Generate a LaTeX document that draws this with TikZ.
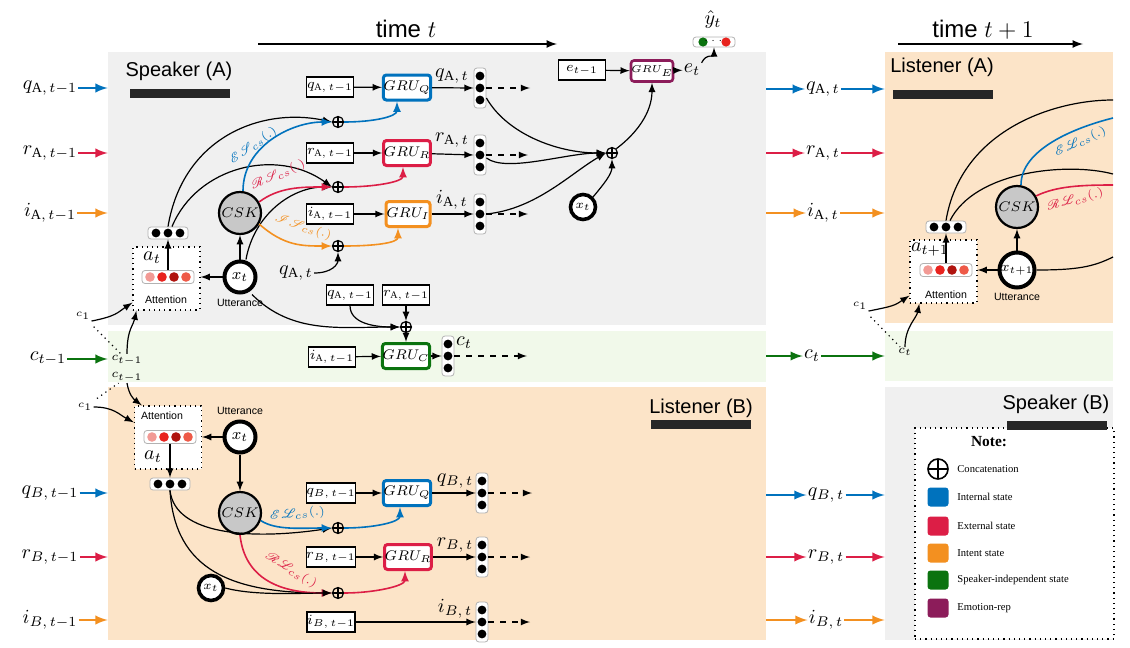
\documentclass[tikz,border=0pt]{standalone}
\usepackage{amsmath}
\usepackage{mathrsfs}
\usepackage{fontspec}
\setmainfont{Liberation Serif}
\setsansfont{Liberation Sans}
\usepackage{tikz}
\usetikzlibrary{calc}
\usetikzlibrary{positioning}
\definecolor{bgspk}{HTML}{F0F0F0}
\definecolor{bglis}{HTML}{FCE4C8}
\definecolor{bgind}{HTML}{F1F9EA}
\definecolor{stint}{HTML}{0072BD}
\definecolor{stext}{HTML}{DC1E46}
\definecolor{stitn}{HTML}{F39020}
\definecolor{stind}{HTML}{0B730F}
\definecolor{stemo}{HTML}{8C1C5A}
\definecolor{cskfill}{HTML}{C8C8C8}
\definecolor{att1}{HTML}{F29A95}
\definecolor{att2}{HTML}{E8231E}
\definecolor{att3}{HTML}{B0140F}
\definecolor{att4}{HTML}{EE5A48}

% state vectors drawn as a box with dots
\newcommand{\colvec}[3]{%
  \node[colv] (#1) at (#2,#3) {};
  \foreach \dy in {-12,0,12} {\fill (#2,#3+\dy) circle (2.2pt);}%
}
\newcommand{\rowvec}[3]{%
  \node[rowv=20pt] (#1) at (#2,#3) {};
  \foreach \dx in {-12,0,12} {\fill (#2+\dx,#3) circle (2.2pt);}%
}
\newcommand{\attvec}[3]{%
  \node[rowv=26pt, minimum height=6.5pt] (#1) at (#2,#3) {};
  \foreach \dx/\dc in {-18/att1,-6/att2,6/att3,18/att4} {\fill[\dc] (#2+\dx,#3) circle (2.4pt);}%
}

\begin{document}
\begin{tikzpicture}[x=0.5pt,y=-0.5pt,>=latex,
region/.style={fill=#1, draw=none, inner sep=0pt},
namebar/.style={fill=black!85, minimum width=50pt, minimum height=4.5pt, inner sep=0pt},
head/.style={font=\sffamily\normalsize, inner sep=0pt},
prevbox/.style={draw, line width=0.6pt, fill=white, minimum width=23.5pt,
  minimum height=10pt, inner sep=0pt, font=\scriptsize},
gru/.style={draw=#1, line width=1.5pt, fill=white, rounded corners=1.5pt,
  minimum width=22pt, minimum height=12.5pt, inner sep=0pt,
  font=\fontsize{7}{8}\selectfont},
colv/.style={draw=black!30, fill=white, rounded corners=1.5pt,
  minimum width=6pt, minimum height=20pt, inner sep=0pt},
rowv/.style={draw=black!30, fill=white, rounded corners=1.5pt,
  minimum width=#1, minimum height=6pt, inner sep=0pt},
csk/.style={circle, draw, line width=1.1pt, fill=cskfill, minimum size=21pt,
  inner sep=0pt, font=\fontsize{7.5}{8}\selectfont},
utt/.style={circle, draw, line width=2pt, fill=white, minimum size=15.5pt,
  inner sep=0pt, font=\footnotesize},
uttsm/.style={utt, line width=1.8pt, minimum size=12.5pt, font=\fontsize{6}{7}\selectfont},
cat/.style={circle, draw, line width=0.6pt, minimum size=5.5pt, inner sep=0pt,
  path picture={\draw[line width=0.8pt]
    (path picture bounding box.north) -- (path picture bounding box.south)
    (path picture bounding box.west) -- (path picture bounding box.east);}},
catbig/.style={circle, draw, line width=0.8pt, minimum size=10pt, inner sep=0pt,
  path picture={\draw[line width=1.4pt]
    (path picture bounding box.north) -- (path picture bounding box.south)
    (path picture bounding box.west) -- (path picture bounding box.east);}},
attbox/.style={draw, dotted, line width=0.6pt, fill=white, minimum width=33.5pt,
  minimum height=31.5pt, inner sep=0pt},
tag/.style={font=\sffamily\fontsize{5.3}{6}\selectfont, inner sep=0.5pt},
lab/.style={font=\normalsize, inner sep=0.5pt},
sublab/.style={font=\fontsize{6.5}{7}\selectfont, inner sep=0.5pt},
feed/.style={->, line width=1.1pt, draw=#1},
link/.style={->, line width=0.6pt},
wire/.style={line width=0.6pt},
fwd/.style={->, dashed, line width=0.6pt},
fn/.style={->, line width=0.8pt, draw=#1},
fnlab/.style={text=#1, font=\fontsize{5.8}{6}\selectfont, inner sep=0pt},
hint/.style={dotted, line width=0.6pt},
legtxt/.style={font=\fontsize{5.3}{6}\selectfont, anchor=west, inner sep=0pt},
swatch/.style={fill=#1, rounded corners=1.5pt, minimum width=10.5pt,
  minimum height=9.5pt, inner sep=0pt}
]
\useasboundingbox (0,0) rectangle (1130,648);

% panels
\node[region=bgspk, minimum width=329pt, minimum height=136.5pt] (regSA) at (437,188.5) {};
\node[region=bgind, minimum width=329pt, minimum height=25.5pt] (regCA) at (437,356.5) {};
\node[region=bglis, minimum width=329pt, minimum height=126.5pt] (regLB) at (437,513.5) {};
\node[region=bglis, minimum width=114pt, minimum height=135.5pt] (regLA) at (999,187.5) {};
\node[region=bgind, minimum width=114pt, minimum height=25pt] (regCB) at (999,356) {};
\node[region=bgspk, minimum width=114pt, minimum height=126.5pt] (regSB) at (999,513.5) {};

% time axes
\coordinate (tA0) at (258,44);
\coordinate (tA1) at (557,44);
\coordinate (tB0) at (898,44);
\coordinate (tB1) at (1083,44);
\draw[->, line width=0.8pt] (tA0) -- (tA1);
\draw[->, line width=0.8pt] (tB0) -- (tB1);
\node[font=\sffamily\large] (timeA) at (406,29) {time $t$};
\node[font=\sffamily\large] (timeB) at (983,30) {time $t+1$};

% panel titles
\node[head] (nameSA) at (179,71) {Speaker (A)};
\node[namebar] (barSA) at (180,93) {};
\node[head] (nameLA) at (942,67) {Listener (A)};
\node[namebar] (barLA) at (942.5,94) {};
\node[head] (nameLB) at (701,408) {Listener (B)};
\node[namebar] (barLB) at (700.5,424.5) {};

% states at t-1
\node[lab] (qinA) at (50,88) {$q_{\mathrm{A},\,t-1}$};
\node[lab] (rinA) at (50,153) {$r_{\mathrm{A},\,t-1}$};
\node[lab] (iinA) at (50,213) {$i_{\mathrm{A},\,t-1}$};
\node[lab] (cin) at (48,359) {$c_{t-1}$};
\node[lab] (qinB) at (50,493) {$q_{B,\,t-1}$};
\node[lab] (rinB) at (50,557) {$r_{B,\,t-1}$};
\node[lab] (iinB) at (50,620) {$i_{B,\,t-1}$};
\draw[feed=stint] (qinA.east) -- (qinA.east -| regSA.west);
\draw[feed=stext] (rinA.east) -- (rinA.east -| regSA.west);
\draw[feed=stitn] (iinA.east) -- (iinA.east -| regSA.west);
\draw[feed=stind] (cin.east) -- (cin.east -| regCA.west);
\draw[feed=stint] (qinB.east) -- (qinB.east -| regLB.west);
\draw[feed=stext] (rinB.east) -- (rinB.east -| regLB.west);
\draw[feed=stitn] (iinB.east) -- (iinB.east -| regLB.west);

% states at t
\node[lab] (qoutA) at (823,89) {$q_{\mathrm{A},\,t}$};
\node[lab] (routA) at (823,153) {$r_{\mathrm{A},\,t}$};
\node[lab] (ioutA) at (823,213) {$i_{\mathrm{A},\,t}$};
\node[lab] (cout) at (812,356) {$c_t$};
\node[lab] (qoutB) at (826,495) {$q_{B,\,t}$};
\node[lab] (routB) at (826,557) {$r_{B,\,t}$};
\node[lab] (ioutB) at (826,620) {$i_{B,\,t}$};
\draw[feed=stint] (regSA.east |- qoutA) -- (qoutA.west);
\draw[feed=stint] (qoutA.east) -- (qoutA.east -| regLA.west);
\draw[feed=stext] (regSA.east |- routA) -- (routA.west);
\draw[feed=stext] (routA.east) -- (routA.east -| regLA.west);
\draw[feed=stitn] (regSA.east |- ioutA) -- (ioutA.west);
\draw[feed=stitn] (ioutA.east) -- (ioutA.east -| regLA.west);
\draw[feed=stind] (regCA.east |- cout) -- (cout.west);
\draw[feed=stind] (cout.east) -- (cout.east -| regCB.west);
\draw[feed=stint] (regLB.east |- qoutB) -- (qoutB.west);
\draw[feed=stint] (qoutB.east) -- (qoutB.east -| regSB.west);
\draw[feed=stext] (regLB.east |- routB) -- (routB.west);
\draw[feed=stext] (routB.east) -- (routB.east -| regSB.west);
\draw[feed=stitn] (regLB.east |- ioutB) -- (ioutB.west);
\draw[feed=stitn] (ioutB.east) -- (ioutB.east -| regSB.west);

% ---------- speaker (A) ----------
\node[attbox] (attA) at (166.5,278.5) {};
\node[lab] (atA) at (152,258) {$a_t$};
\attvec{redA}{168}{277}
\node[tag] (attlabA) at (166,300) {Attention};
\rowvec{vecA}{168}{233}
\node[csk] (cskA) at (240,213) {$CSK$};
\node[utt] (xA) at (240,277) {$x_t$};
\node[tag, below=1.5pt of xA] (uttA) {Utterance};
\node[cat] (catQ) at (338,122) {};
\node[cat] (catR) at (338,187) {};
\node[cat] (catI) at (338,246) {};
\node[lab] (qA) at (296,273) {$q_{\mathrm{A},\,t}$};

\node[prevbox] (qprevA) at (330,87) {$q_{\mathrm{A},\,t-1}$};
\node[prevbox] (rprevA) at (330,153) {$r_{\mathrm{A},\,t-1}$};
\node[prevbox] (iprevA) at (330,214) {$i_{\mathrm{A},\,t-1}$};
\node[gru=stint] (gruQA) at (407,87.5) {$GRU_Q$};
\node[gru=stext] (gruRA) at (407,153) {$GRU_R$};
\node[gru=stitn] (gruIA) at (408,214) {$GRU_I$};
\colvec{colQA}{480}{88}
\colvec{colRA}{480}{155}
\colvec{colIA}{480}{214}
\node[lab] (qtA) at (452,76) {$q_{\mathrm{A},\,t}$};
\node[lab] (rtA) at (452,140) {$r_{\mathrm{A},\,t}$};
\node[lab] (itA) at (452,200) {$i_{\mathrm{A},\,t}$};
\coordinate (fwdQA) at (530,88);
\coordinate (fwdRA) at (528,155);
\coordinate (fwdIA) at (528,214);

\draw[link] (redA.north) -- (vecA.south);
\draw[link] (xA) -- (attA.east |- xA);
\draw[link] (xA) -- (cskA);
\draw[link] (vecA.north) .. controls +(15,-90) and +(-70,-15) .. (catQ.west);
\draw[link] ([xshift=2pt]vecA.north) .. controls +(25,-60) and +(-55,-40) .. (catR.west);
\draw[link] ([xshift=3pt]xA.north) .. controls +(8,-45) and +(-40,0) .. (catR.west);
\draw[fn=stint] ([xshift=1.5pt]cskA.north) .. controls +(0,-45) and +(-40,0) .. (catQ.west);
\draw[fn=stext] (cskA.30) .. controls +(20,-15) and +(-30,0) .. (catR.west);
\draw[fn=stitn] (cskA.-30) .. controls +(25,22) and +(-30,0) .. (catI.west);
\draw[link] (qA.east) .. controls +(18,0) and +(0,12) .. (catI.south);
\node[fnlab=stint, rotate=36] (esA) at (253,146) {$\mathscr{E}\mathscr{S}_{cs}(.)$};
\node[fnlab=stext, rotate=24] (rsA) at (278,175) {$\mathscr{R}\mathscr{S}_{cs}(.)$};
\node[fnlab=stitn, rotate=-18] (isA) at (303,227) {$\mathscr{I}\mathscr{S}_{cs}(.)$};

\draw[fn=stint] (catQ.east) .. controls +(30,0) and +(0,15) .. ([xshift=-5pt]gruQA.south);
\draw[fn=stext] (catR.east) .. controls +(30,0) and +(0,15) .. ([xshift=-2pt]gruRA.south);
\draw[fn=stitn] (catI.east) .. controls +(30,0) and +(0,15) .. ([xshift=-5pt]gruIA.south);
\draw[link] (qprevA) -- (gruQA);
\draw[link] (rprevA) -- (gruRA);
\draw[link] (iprevA) -- (gruIA);
\draw[link] (gruQA) -- (colQA.west);
\draw[link] (gruRA) -- (colRA.west);
\draw[link] (gruIA) -- (colIA.west);
\draw[fwd] (colQA.east) -- (fwdQA);
\draw[fwd] (colRA.east) -- (fwdRA);
\draw[fwd] (colIA.east) -- (fwdIA);

% emotion
\node[prevbox] (eprev) at (582,70) {$e_{t-1}$};
\node[gru=stemo, line width=1.3pt, minimum width=17pt, minimum height=10.5pt,
  font=\fontsize{5.5}{6}\selectfont] (gruE) at (652,71) {$GRU_E$};
\node[lab] (eA) at (692,70) {$e_t$};
\node[rowv=21pt, minimum height=5pt] (yvec) at (714,42) {};
\fill[stind] (703,42) circle (2.3pt);
\fill[att2] (726,42) circle (2.3pt);
\node[font=\tiny, inner sep=0pt] (ydots) at (714.5,41) {$\cdots$};
\node[lab] (yhat) at (713,20) {$\hat{y}_t$};
\node[cat] (catE) at (612,153) {};
\node[uttsm] (xE) at (583,207) {$x_t$};
\draw[link] (eprev) -- (gruE);
\draw[link] (gruE) -- (eA);
\draw[link] (eA.north east) .. controls +(5,-10) and +(0,10) .. (yvec.south);
\draw[link] ([yshift=-5pt]colQA.east) .. controls +(20,35) and +(-50,0) .. (catE.west);
\draw[link] ([yshift=-1.5pt]colRA.east) .. controls +(20,15) and +(-40,0) .. (catE.west);
\draw[link] (colIA.east) .. controls +(50,-5) and +(-35,20) .. (catE.west);
\draw[link] (xE.north east) .. controls +(10,-12) and +(0,15) .. (catE.south);
\draw[link] (catE.north east) .. controls +(20,-15) and +(0,30) .. (gruE.south);

% ---------- speaker-independent state ----------
\node[prevbox] (qprevC) at (350,295) {$q_{\mathrm{A},\,t-1}$};
\node[prevbox] (rprevC) at (406,295) {$r_{\mathrm{A},\,t-1}$};
\node[cat] (catC) at (406,327) {};
\node[gru=stind] (gruC) at (406,356) {$GRU_C$};
\node[prevbox] (iprevC) at (332,357) {$i_{\mathrm{A},\,t-1}$};
\colvec{colC}{448}{356}
\node[lab] (ctA) at (464,343) {$c_t$};
\coordinate (fwdC) at (527,356);
\draw[link] ([xshift=6pt]xA.south) .. controls +(40,40) and +(-60,0) .. (catC.west);
\draw[link] (qprevC.south) .. controls +(0,18) and +(-25,0) .. (catC.west);
\draw[link] (rprevC) -- (catC);
\draw[link] (catC) -- (gruC);
\draw[link] (iprevC) -- (gruC);
\draw[link] (gruC) -- (colC.west);
\draw[fwd] (colC.east) -- (fwdC);

\node[sublab, font=\fontsize{5.5}{6}\selectfont] (cOneA) at (83,316) {$c_1$};
\node[sublab] (cUpA) at (127,360) {$c_{t-1}$};
\node[sublab] (cLowB) at (127,377) {$c_{t-1}$};
\node[sublab, font=\fontsize{5.5}{6}\selectfont] (cOneB) at (85,407) {$c_1$};
\draw[link] (cOneA.south east) .. controls +(25,-5) and +(-15,10) .. ([yshift=4pt]attA.south west);
\draw[link] (cUpA.north) .. controls +(0,-25) and +(-3,15) .. ([xshift=2pt]attA.south west);
\draw[hint, shorten <=4pt] (cOneA) -- (cUpA);

% ---------- listener (B) ----------
\node[attbox] (attB) at (168,437.5) {};
\node[tag] (attlabB) at (162,416) {Attention};
\attvec{redB}{170}{437}
\node[lab] (atB) at (153,457) {$a_t$};
\rowvec{vecB}{170}{484}
\node[utt] (xB) at (240,437) {$x_t$};
\node[tag, above=2pt of xB] (uttB) {Utterance};
\node[csk] (cskB) at (240,513) {$CSK$};
\node[uttsm] (xsB) at (211,588) {$x_t$};
\node[cat] (catQB) at (338,528) {};
\node[cat] (catRB) at (338,593) {};
\node[prevbox] (qprevB) at (331,493) {$q_{B,\,t-1}$};
\node[prevbox] (rprevB) at (331,557) {$r_{B,\,t-1}$};
\node[prevbox] (iprevB) at (331,622) {$i_{B,\,t-1}$};
\node[gru=stint] (gruQB) at (407,493) {$GRU_Q$};
\node[gru=stext] (gruRB) at (408,557) {$GRU_R$};
\colvec{colQB}{482}{493}
\colvec{colRB}{482}{557}
\colvec{colIB}{482}{622}
\node[lab] (qtB) at (455,481) {$q_{B,\,t}$};
\node[lab] (rtB) at (455,545) {$r_{B,\,t}$};
\node[lab] (itB) at (455,609) {$i_{B,\,t}$};
\coordinate (fwdQB) at (532,493);
\coordinate (fwdRB) at (530,557);
\coordinate (fwdIB) at (530,622);

\draw[link] (cLowB.south) .. controls +(2,12) and +(-8,-6) .. ([xshift=4pt]attB.north west);
\draw[link] (cOneB.east) .. controls +(20,0) and +(-15,-8) .. ([yshift=-8.5pt]attB.north west);
\draw[hint, shorten <=3pt] (cOneB) -- (cLowB);
\draw[link] (xB) -- (attB.east |- xB);
\draw[link] (xB) -- (cskB);
\draw[link] (redB.south) -- (vecB.north);
\draw[link] (vecB.south) .. controls +(5,45) and +(-80,12) .. (catQB.west);
\draw[link] (vecB.south) .. controls +(5,80) and +(-100,0) .. (catRB.west);
\draw[fn=stint] (cskB.-20) .. controls +(15,10) and +(-30,0) .. (catQB.west);
\draw[fn=stext] (cskB.south) .. controls +(5,45) and +(-50,0) .. (catRB.west);
\draw[link] (xsB.east) .. controls +(30,8) and +(-30,0) .. (catRB.west);
\node[fnlab=stint, rotate=5] (elB) at (297,514) {$\mathscr{E}\mathscr{L}_{cs}(.)$};
\node[fnlab=stext, rotate=-32] (rlB) at (291,570) {$\mathscr{R}\mathscr{L}_{cs}(.)$};
\draw[fn=stint] (catQB.east) .. controls +(30,0) and +(0,15) .. ([xshift=-3.5pt]gruQB.south);
\draw[fn=stext] (catRB.east) .. controls +(30,0) and +(0,15) .. ([xshift=-1.5pt]gruRB.south);
\draw[link] (qprevB) -- (gruQB);
\draw[link] (rprevB) -- (gruRB);
\draw[link] (gruQB) -- (colQB.west);
\draw[link] (gruRB) -- (colRB.west);
\draw[link] (iprevB) -- (colIB.west);
\draw[fwd] (colQB.east) -- (fwdQB);
\draw[fwd] (colRB.east) -- (fwdRB);
\draw[fwd] (colIB.east) -- (fwdIB);

% ---------- listener (A) at t+1 ----------
\coordinate (edgeA1) at (1113,100);
\coordinate (edgeA2) at (1113,174);
\coordinate (edgeA3) at (1113,118);
\coordinate (edgeA4) at (1113,185);
\coordinate (edgeA5) at (1113,257);
\rowvec{vecLA}{946}{227}
\node[csk] (cskLA) at (1017,207) {$CSK$};
\node[utt, minimum size=17.5pt, font=\scriptsize] (xLA) at (1017,270) {$x_{t+1}$};
\node[tag, below=1pt of xLA] (uttLA) {Utterance};
\draw[wire] (vecLA.north) .. controls +(15,-90) and +(-60,0) .. (edgeA1);
\draw[wire] ([xshift=2pt]vecLA.north) .. controls +(25,-50) and +(-45,-12) .. (edgeA2);
\draw[wire, stint, line width=0.8pt] ([xshift=2pt]cskLA.north) .. controls +(0,-35) and +(-40,10) .. (edgeA3);
\draw[wire, stext, line width=0.8pt] (cskLA.30) .. controls +(20,-10) and +(-30,0) .. (edgeA4);
\draw[wire] (xLA.east) .. controls +(40,0) and +(-20,10) .. (edgeA5);
\node[fnlab=stint, rotate=25] (elLA) at (1080,142) {$\mathscr{E}\mathscr{L}_{cs}(.)$};
\node[fnlab=stext, rotate=15] (rlLA) at (1075,200) {$\mathscr{R}\mathscr{L}_{cs}(.)$};
\node[attbox] (attLA) at (943.5,271.5) {};
\node[lab] (atLA) at (930,250) {$a_{t+1}$};
\attvec{redLA}{946}{270}
\node[tag] (attlabLA) at (946,295) {Attention};
\draw[link] (redLA.north) -- (vecLA.south);
\draw[link] (xLA) -- (attLA.east |- xLA);
\draw[link] (xLA) -- (cskLA);
\node[sublab, font=\fontsize{5.5}{6}\selectfont] (cOneLA) at (860,306) {$c_1$};
\node[sublab] (cLA) at (905,352) {$c_t$};
\draw[link] (cOneLA.south east) .. controls +(25,-5) and +(-15,10) .. ([yshift=4pt]attLA.south west);
\draw[link] (cLA.north) .. controls +(0,-20) and +(-3,15) .. ([xshift=5pt]attLA.south west);
\draw[hint, shorten <=4pt] (cOneLA) -- (cLA);

% ---------- note ----------
\node[draw, dotted, line width=0.6pt, fill=white, minimum width=99.5pt,
  minimum height=105.5pt, inner sep=0pt] (note) at (1014.5,533.5) {};
\node[head] (nameSB) at (1056,404) {Speaker (B)};
\node[namebar] (barSB) at (1057,425.5) {};
\node[font=\bfseries\fontsize{7.7}{9}\selectfont] (noteti) at (989,442) {Note:};
\node[catbig] (legcat) at (938,469) {};
\node[legtxt] (legcatt) at (957,469) {Concatenation};
\foreach \yy/\cc/\txt [count=\i] in {497/stint/Internal state,526/stext/External state,
    553/stitn/Intent state,580/stind/Speaker-independent state,608/stemo/Emotion-rep}
  {\node[swatch=\cc] (sw\i) at (938,\yy) {};
   \node[legtxt] (legt\i) at (957,\yy) {\txt};}

\end{tikzpicture}
\end{document}
